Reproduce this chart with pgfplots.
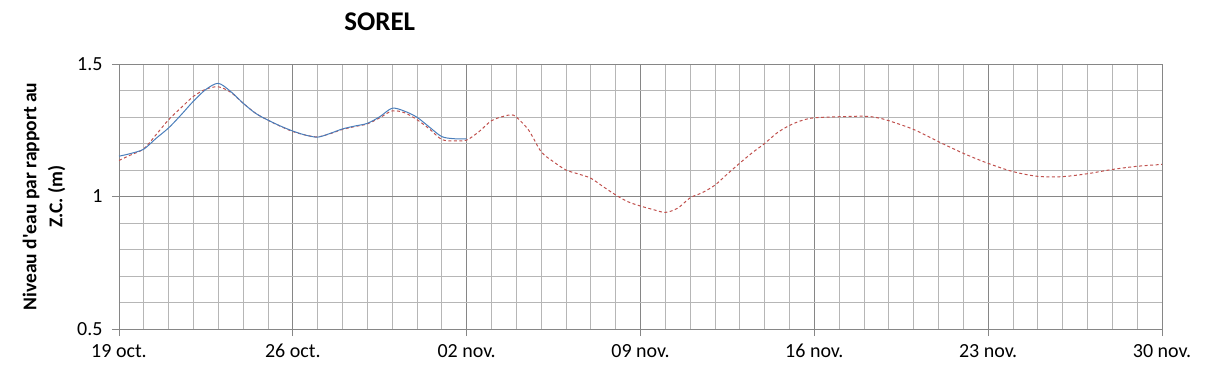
\documentclass[border=0pt]{standalone}
\usepackage{pgfplots}
\pgfplotsset{compat=1.18}
\usepackage{fontspec}
\setmainfont{Carlito}
\definecolor{blueline}{RGB}{74,126,187}
\definecolor{redline}{RGB}{192,80,77}
\definecolor{minorgrid}{RGB}{182,182,182}
\definecolor{majorgrid}{RGB}{134,134,134}
\begin{document}
\begin{tikzpicture}
\path[use as bounding box] (0,0) rectangle (1209pt,378pt);
\begin{axis}[
 at={(119pt,49pt)}, anchor=south west,
 scale only axis, width=1043pt, height=265pt,
 xmin=0, xmax=42, ymin=0.5, ymax=1.5,
 xtick={0,7,14,21,28,35,42},
 xticklabels={19 oct.,26 oct.,02 nov.,09 nov.,16 nov.,23 nov.,30 nov.},
 minor x tick num=6,
 ytick={0.5,1,1.5}, yticklabels={0.5,1,1.5},
 minor y tick num=4,
 grid=both,
 major grid style={majorgrid, line width=0.9pt},
 minor grid style={minorgrid, line width=0.9pt},
 axis line style={majorgrid, line width=0.9pt},
 tick style={majorgrid, line width=0.9pt},
 tick align=outside, tick pos=left,
 major tick length=7pt, minor tick length=0pt,
 ticklabel style={font=\fontsize{20}{22}\selectfont, text=black},
 xticklabel style={text height=14pt, text depth=4pt, yshift=-4pt},
 yticklabel style={xshift=-6pt},
 title={SOREL},
 title style={font=\bfseries\fontsize{27}{30}\selectfont, at={(rel axis cs:0.25,1)}, anchor=base, yshift=27pt},
 ylabel={Niveau d\textquotesingle eau par rapport au\\Z.C. (m)},
 ylabel style={font=\bfseries\fontsize{19.5}{26}\selectfont, align=center, at={(axis description cs:-0.072,0.5)}, anchor=center},
]
\addplot[redline, line width=1pt, dash pattern=on 3pt off 2.5pt, smooth] coordinates {
(0,1.136) (0.5,1.158) (1,1.180) (1.5,1.234) (2,1.290) (2.5,1.335) (3,1.378) (3.5,1.405) (4,1.414)
(4.5,1.393) (5,1.352) (5.5,1.314) (6,1.288) (6.5,1.265) (7,1.245) (7.5,1.232) (8,1.225)
(8.5,1.237) (9,1.253) (9.5,1.264) (10,1.274) (10.5,1.297) (11,1.323) (11.5,1.316) (12,1.290)
(12.5,1.255) (13,1.215) (13.5,1.210) (14,1.213) (14.5,1.245) (15,1.286) (15.5,1.303) (15.8,1.308)
(16,1.300) (16.5,1.250) (17,1.169) (17.5,1.131) (18,1.100) (18.5,1.085) (19,1.069) (19.5,1.037)
(20,1.006) (20.5,0.980) (21,0.964) (21.5,0.951) (22,0.940) (22.5,0.956) (23,0.995) (23.5,1.015)
(24,1.043) (24.5,1.085) (25,1.126) (25.5,1.165) (26,1.200) (26.5,1.240) (27,1.268) (27.5,1.287)
(28,1.297) (29,1.301) (30,1.303) (30.5,1.298) (31,1.286) (32,1.253) (33,1.207) (34,1.163)
(35,1.125) (36,1.094) (37,1.076) (38,1.075) (39,1.086) (40,1.102) (41,1.114) (42,1.121)
};
\addplot[blueline, line width=1pt, smooth] coordinates {
(0,1.152) (0.5,1.163) (1,1.179) (1.5,1.220) (2,1.259) (2.5,1.308) (3,1.360) (3.5,1.404) (4,1.427)
(4.5,1.396) (5,1.352) (5.5,1.314) (6,1.288) (6.5,1.266) (7,1.247) (7.5,1.232) (8,1.224)
(8.5,1.238) (9,1.255) (9.5,1.266) (10,1.276) (10.5,1.301) (11,1.333) (11.5,1.322) (12,1.299)
(12.5,1.262) (13,1.226) (13.5,1.218) (14,1.217)
};
\end{axis}
\end{tikzpicture}
\end{document}
